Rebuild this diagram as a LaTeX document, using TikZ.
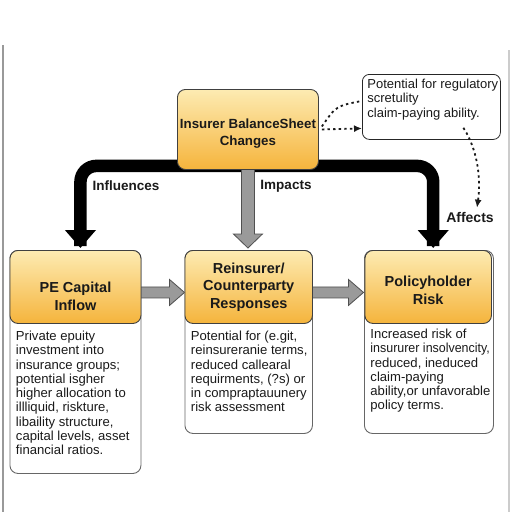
\documentclass[tikz,border=0pt]{standalone}
\usepackage{fontspec}
\usepackage{graphicx}
\setmainfont{Liberation Sans}
\usetikzlibrary{arrows.meta,backgrounds,calc}
\definecolor{ortop}{HTML}{FDEBB2}
\definecolor{orbot}{HTML}{F5B43C}
\definecolor{arrgray}{HTML}{9A9A9A}
\definecolor{arredge}{HTML}{505050}
\definecolor{txt}{HTML}{1A1A1A}
\tikzset{
  header/.style={draw=black!75, line width=0.9pt, rounded corners=8pt, top color=ortop, bottom color=orbot, inner sep=0pt, font=\fontsize{14.5}{17.5}\selectfont\bfseries, text=txt},
  bodybox/.style={draw=black!60, line width=0.9pt, rounded corners=8pt, fill=white, inner xsep=6pt, inner ysep=0pt, font=\fontsize{13.1}{14.3}\selectfont, text=txt},
  notebox/.style={draw=black!85, line width=0.8pt, rounded corners=7pt, fill=white, inner xsep=5pt, inner ysep=4pt, font=\fontsize{13}{14.3}\selectfont, text=txt},
  grayarrow/.style={fill=arrgray, draw=arredge, line width=0.8pt, line join=miter},
  blackarrow/.style={line width=12.5pt, draw=black, -{Triangle[width=30pt,length=18pt]}},
  dotline/.style={draw=txt, line width=1.8pt, dash pattern=on 2.4pt off 3.2pt},
  lbl/.style={font=\fontsize{13.5}{16}\selectfont\bfseries, text=txt, inner sep=2pt},
  frameline/.style={draw=black!40, line width=1.1pt}
}
\begin{document}
\begin{tikzpicture}[x=1pt,y=-1pt]
\useasboundingbox (0,0) rectangle (512,512);

% title box
\node[header, anchor=north west] (top) at (177,89)
  {\parbox[c][80pt][c]{141pt}{\centering\fontsize{13.3}{17}\selectfont\bfseries\vspace*{8pt}Insurer BalanceSheet\\Changes}};

% body boxes
\node[bodybox, anchor=north west] (peb) at (9.5,250)
  {\begin{minipage}[t][223pt][t]{119pt}\vspace*{80pt}\begin{tabular}{@{}l@{}}Private epuity\\investment into\\insurance groups;\\potential isgher\\higher allocation to\\illliquid, riskture,\\libaility structure,\\capital levels, asset\\financial ratios.\end{tabular}\end{minipage}};
\node[bodybox, anchor=north west] (reb) at (184.5,250)
  {\begin{minipage}[t][183pt][t]{115.5pt}\vspace*{80pt}\begin{tabular}{@{}l@{}}Potential for (e.git,\\reinsureranie terms,\\reduced callearal\\requirments, (?s) or\\in compraptauunery\\risk assessment\end{tabular}\end{minipage}};
\node[bodybox, anchor=north west] (phb) at (364,250)
  {\begin{minipage}[t][183pt][t]{117pt}\vspace*{78pt}\begin{tabular}{@{}l@{}}Increased risk of\\\scalebox{0.95}[1]{insururer insolvencity,}\\reduced, ineduced\\claim-paying\\ability,or unfavorable\\policy terms.\end{tabular}\end{minipage}};

\node[header, anchor=north west] (pe) at (9.5,250)
  {\parbox[c][73pt][c]{131pt}{\centering\vspace*{19pt}PE Capital\\Inflow}};
\node[header, anchor=north west] (re) at (184.5,250)
  {\parbox[c][73pt][c]{127.5pt}{\centering Reinsurer/\\Counterparty\\Responses}};
\node[header, anchor=north west] (ph) at (364.5,250)
  {\parbox[c][73pt][c]{126.5pt}{\centering\vspace*{7pt}Policyholder\\Risk}};

% note
\node[notebox, anchor=north west] (note) at (362,74)
  {\begin{minipage}[t][57pt][t]{128pt}\vspace*{0pt}\begin{tabular}{@{}l@{}}Potential for regulatory\\scretulity\\claim-paying ability.\end{tabular}\end{minipage}};

% labels
\node[lbl] (infl) at (126,186) {Influences};
\node[lbl] (imp) at (286,186) {Impacts};
\node[lbl, font=\fontsize{14}{16}\selectfont\bfseries] (aff) at (470,217) {Affects};

\begin{scope}[on background layer]
  \fill[white] (0,0) rectangle (512,512);
  \draw[frameline] (3,45) -- (3,512);
  \draw[frameline, draw=black!20] (509,50) -- (509,512);
  % thick black connectors
  \draw[blackarrow] ([yshift=4pt]top.south) [rounded corners=16pt] -| ([xshift=5pt,yshift=20pt]pe.north) [sharp corners] -- ([xshift=5pt,yshift=2pt]pe.north);
  \draw[blackarrow] ([yshift=4pt]top.south) [rounded corners=16pt] -| ([xshift=5pt,yshift=20pt]ph.north) [sharp corners] -- ([xshift=5pt,yshift=2pt]ph.north);
  % gray vertical arrow
  \draw[grayarrow] let \p1=(top.south), \p2=(re.north) in
    (\x1-6.5pt,\y1+2pt) -- (\x1-6.5pt,\y2+16pt) -- (\x1-14.5pt,\y2+16pt) -- (\x1,\y2+2pt)
    -- (\x1+14.5pt,\y2+16pt) -- (\x1+6.5pt,\y2+16pt) -- (\x1+6.5pt,\y1+2pt) -- cycle;
  % gray horizontal arrows
  \draw[grayarrow] let \p1=(pe.east), \p2=(re.west) in
    (\x1-2pt,\y1) -- (\x2-15pt,\y1) -- (\x2-15pt,\y1+7.5pt) -- (\x2,\y1-5.5pt)
    -- (\x2-15pt,\y1-18.5pt) -- (\x2-15pt,\y1-11pt) -- (\x1-2pt,\y1-11pt) -- cycle;
  \draw[grayarrow] let \p1=(re.east), \p2=(ph.west) in
    (\x1-2pt,\y1) -- (\x2-16pt,\y1) -- (\x2-16pt,\y1+7.5pt) -- (\x2-1pt,\y1-5.5pt)
    -- (\x2-16pt,\y1-18.5pt) -- (\x2-16pt,\y1-11pt) -- (\x1-2pt,\y1-11pt) -- cycle;
\end{scope}

% dotted connectors
\draw[dotline, -{Latex[length=8pt,width=7pt]}] ([xshift=3pt]top.east) -- ([yshift=-21.5pt]note.west);
\draw[dotline] ([xshift=3pt,yshift=3pt]top.east) .. controls (336,106) .. ([yshift=6pt]note.west);
\draw[dotline, -{Latex[length=8pt,width=7pt]}] ([xshift=32pt,yshift=12pt]note.south) .. controls (478,150) and (481,180) .. ([xshift=7pt,yshift=2pt]aff.north);
\end{tikzpicture}
\end{document}
